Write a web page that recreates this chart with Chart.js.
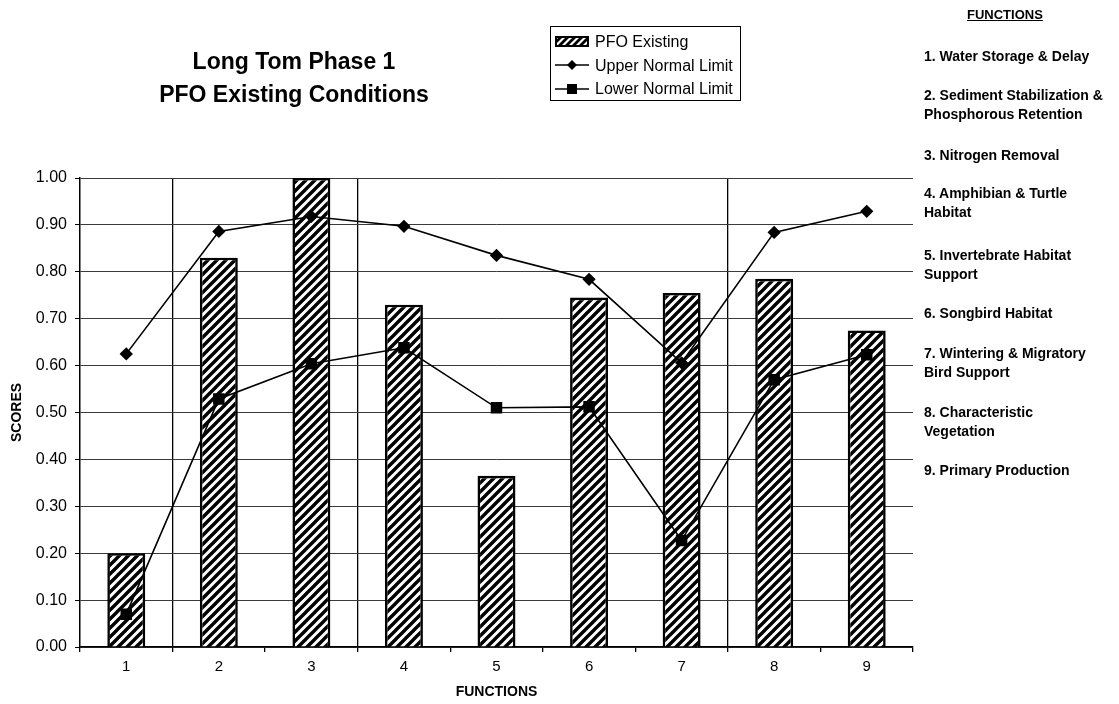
<!DOCTYPE html>
<html>
<head>
<meta charset="utf-8">
<title>Long Tom Phase 1 - PFO Existing Conditions</title>
<script src="https://cdn.jsdelivr.net/npm/chart.js@4.4.1/dist/chart.umd.min.js"></script>
<style>
	html, body { margin: 0; padding: 0; background: #fff; }
	body { width: 1119px; height: 704px; position: relative; overflow: hidden; font-family: "Liberation Sans", Arial, sans-serif; color: #000; }
	#chart { position: absolute; left: 0; top: 0; }
	.title { position: absolute; left: 134px; width: 320px; text-align: center; font-weight: bold; font-size: 23px; line-height: 33px; top: 45px; }
	.legend { position: absolute; left: 550px; top: 26px; width: 189px; height: 73px; border: 1px solid #000; font-size: 16px; }
	.legend div { position: absolute; left: 4px; height: 24px; line-height: 24px; white-space: nowrap; }
	.legend svg { vertical-align: middle; margin-right: 6px; position: relative; top: -1px; }
	.funcs { position: absolute; left: 924px; top: 0; font-weight: bold; font-size: 14px; }
	.funcs div { position: absolute; white-space: nowrap; line-height: 16px; }
	.funcs .head { left: 43px; font-size: 13px; text-decoration: underline; }
</style>
</head>
<body>
<canvas id="chart" width="1119" height="704"></canvas>
<div class="title">Long Tom Phase 1<br>PFO Existing Conditions</div>
<div class="legend" id="legend"></div>
<div class="funcs" id="funcs"></div>
<script>
	const categories = [ '1', '2', '3', '4', '5', '6', '7', '8', '9' ];
	const pfoExisting = [ 0.20, 0.83, 1.00, 0.73, 0.365, 0.745, 0.755, 0.785, 0.675 ];
	const upperLimit = [ 0.625, 0.886, 0.918, 0.897, 0.835, 0.784, 0.606, 0.884, 0.929 ];
	const lowerLimit = [ 0.07, 0.529, 0.604, 0.638, 0.51, 0.512, 0.227, 0.57, 0.623 ];
	const yTicks = [ 0, 0.1, 0.2, 0.3, 0.4, 0.5, 0.6, 0.7, 0.8, 0.9, 1.0 ];
	const functionNames = [
		[ '1. Water Storage & Delay' ],
		[ '2. Sediment Stabilization &', 'Phosphorous Retention' ],
		[ '3. Nitrogen Removal' ],
		[ '4. Amphibian & Turtle', 'Habitat' ],
		[ '5. Invertebrate Habitat', 'Support' ],
		[ '6. Songbird Habitat' ],
		[ '7. Wintering & Migratory', 'Bird Support' ],
		[ '8. Characteristic', 'Vegetation' ],
		[ '9. Primary Production' ],
	];
	// y centre of the first line of each function name
	const functionTops = [ 56, 95, 155, 193, 255, 313, 353, 412, 470 ];
	// category boundaries that carry a vertical rule in the original
	const verticalRules = [ 1, 3, 7 ];

	( function () {
		'use strict';

		const FONT = '"Liberation Sans", Arial, sans-serif';

		function hatch() {
			const n = 9;
			const c = document.createElement( 'canvas' );
			c.width = n;
			c.height = n;
			const g = c.getContext( '2d' );
			g.fillStyle = '#fff';
			g.fillRect( 0, 0, n, n );
			g.strokeStyle = '#000';
			g.lineWidth = 3.4;
			g.beginPath();
			g.moveTo( -1, n + 1 ); g.lineTo( n + 1, -1 );
			g.moveTo( -2, 2 ); g.lineTo( 2, -2 );
			g.moveTo( n - 2, n + 2 ); g.lineTo( n + 2, n - 2 );
			g.stroke();
			return g.createPattern( c, 'repeat' );
		}

		const ctx = document.getElementById( 'chart' ).getContext( '2d' );

		new Chart( ctx, {
			data: {
				labels: categories,
				datasets: [
					{
						type: 'line', label: 'Upper Normal Limit', data: upperLimit,
						borderColor: '#000', borderWidth: 1.6, backgroundColor: '#000',
						pointStyle: 'rectRot', pointRadius: 5.5, tension: 0, order: 1,
					},
					{
						type: 'line', label: 'Lower Normal Limit', data: lowerLimit,
						borderColor: '#000', borderWidth: 1.6, backgroundColor: '#000',
						pointStyle: 'rect', pointRadius: 7, tension: 0, order: 1,
					},
					{
						type: 'bar', label: 'PFO Existing', data: pfoExisting,
						backgroundColor: hatch(), borderColor: '#000', borderWidth: 2.6,
						categoryPercentage: 1, barPercentage: 0.41, order: 2,
					},
				],
			},
			options: {
				responsive: false,
				animation: false,
				layout: { padding: { top: 178, right: 206, bottom: 0, left: 0 } },
				plugins: { legend: { display: false }, tooltip: { enabled: false } },
				scales: {
					x: {
						afterFit: ( s ) => { s.height = 57; },
						grid: {
							offset: true,
							color: ( c ) => verticalRules.includes( c.index ) ? '#000' : 'rgba(0,0,0,0)',
							tickColor: '#000',
							tickLength: 5,
							lineWidth: 1.3,
						},
						border: { color: '#000', width: 1.5 },
						ticks: { color: '#000', font: { family: FONT, size: 15 }, padding: 6 },
						title: { display: true, text: 'FUNCTIONS', color: '#000', font: { family: FONT, size: 14, weight: 'bold' }, padding: { top: 0, bottom: 3 } },
					},
					y: {
						min: 0,
						max: 1,
						afterFit: ( s ) => { s.width = 80; },
						afterBuildTicks: ( s ) => { s.ticks = yTicks.map( ( v ) => ( { value: v } ) ); },
						grid: { color: '#3a3a3a', tickColor: '#000', tickLength: 5, lineWidth: 1 },
						border: { color: '#000', width: 1.5 },
						ticks: { color: '#000', font: { family: FONT, size: 16 }, padding: 8, callback: ( v ) => Number( v ).toFixed( 2 ) },
						title: { display: true, text: 'SCORES', color: '#000', font: { family: FONT, size: 14, weight: 'bold' }, padding: { top: 9, bottom: 0 } },
					},
				},
			},
		} );

		// Legend box
		const hatchSvg = '<svg width="34" height="11"><defs><pattern id="hp" width="7" height="7" patternUnits="userSpaceOnUse">' +
			'<rect width="7" height="7" fill="#fff"/><path d="M-1 8L8 -1M-1 1L1 -1M6 8L8 6" stroke="#000" stroke-width="2.8"/></pattern></defs>' +
			'<rect x="1" y="1" width="32" height="9" fill="url(#hp)" stroke="#000" stroke-width="2"/></svg>';
		const lineSvg = ( marker ) => '<svg width="34" height="12"><line x1="0" y1="6" x2="34" y2="6" stroke="#000" stroke-width="1.5"/>' + marker + '</svg>';
		const rows = [
			[ hatchSvg, 'PFO Existing' ],
			[ lineSvg( '<path d="M17 1L22 6L17 11L12 6Z" fill="#000"/>' ), 'Upper Normal Limit' ],
			[ lineSvg( '<rect x="12" y="1" width="10" height="10" fill="#000"/>' ), 'Lower Normal Limit' ],
		];
		document.getElementById( 'legend' ).innerHTML = rows.map( ( [ sw, label ], i ) =>
			`<div style="top:${ 3 + i * 23.5 }px">${ sw }${ label }</div>` ).join( '' );

		// Function names list on the right
		let html = '<div class="head" style="top:7px">FUNCTIONS</div>';
		functionNames.forEach( ( lines, i ) => {
			lines.forEach( ( line, j ) => {
				html += `<div style="top:${ functionTops[ i ] - 8 + j * 19 }px">${ line.replace( /&/g, '&amp;' ) }</div>`;
			} );
		} );
		document.getElementById( 'funcs' ).innerHTML = html;
	} )();
</script>
</body>
</html>
